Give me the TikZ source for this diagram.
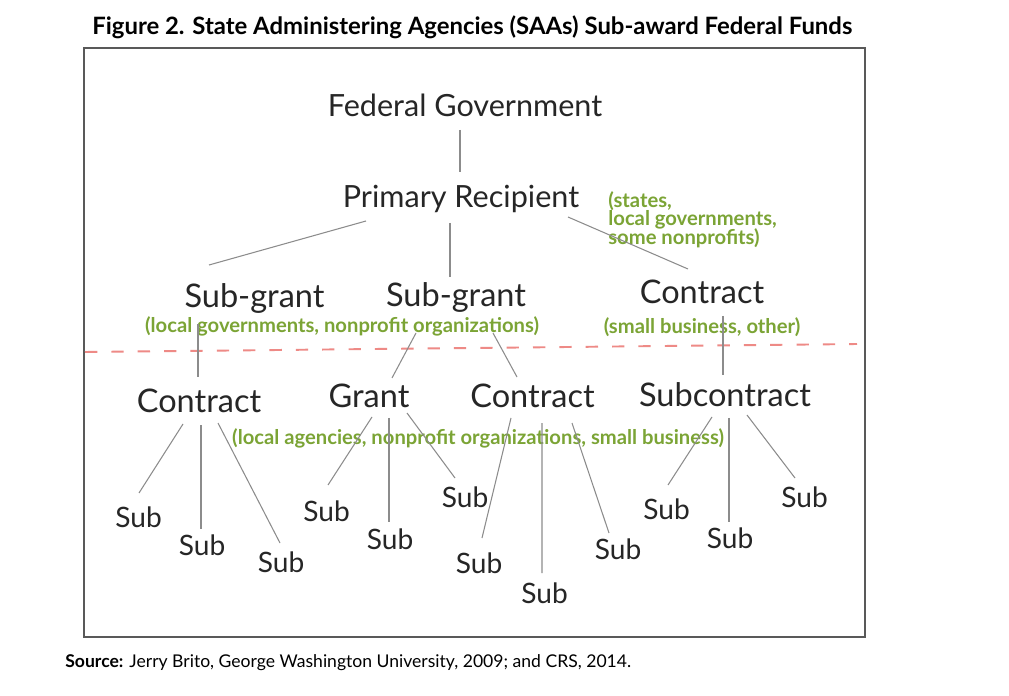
\documentclass[tikz,border=0pt]{standalone}
\usepackage{fontspec}
\setmainfont{Lato}
\definecolor{notegreen}{HTML}{7BA435}
\definecolor{cutred}{HTML}{EE8A86}
\definecolor{linkgray}{HTML}{8C8C8C}
\begin{document}
\begin{tikzpicture}[x=0.02cm, y=-0.02cm,
    lbl/.style={anchor=base, inner sep=0pt, font=\fontsize{17.4}{20}\selectfont, text=black!85},
    lblB/.style={lbl, font=\fontsize{18.5}{21}\selectfont},
    sub/.style={anchor=base, inner sep=0pt, font=\fontsize{16}{19}\selectfont, text=black!85},
    note/.style={anchor=base, inner sep=0pt, font=\fontsize{11.5}{10}\selectfont\bfseries, text=notegreen},
    link/.style={draw=linkgray, line width=0.6pt},
    frame/.style={draw=black!65, line width=0.8pt},
    cut/.style={draw=cutred, line width=1.1pt, dash pattern=on 7pt off 8pt}]
    \useasboundingbox (0,0) rectangle (1009,696);
    \fill[white] (0,0) rectangle (1009,696);

    \node[anchor=base west, inner sep=0pt, font=\fontsize{13.6}{15}\selectfont\bfseries] (title) at (92,35)
        {Figure 2. State Administering Agencies (SAAs) Sub-award Federal Funds};
    \node[anchor=base west, inner sep=0pt, font=\fontsize{10}{12}\selectfont] (source) at (65,667)
        {\textbf{Source:} Jerry Brito, George Washington University, 2009; and CRS, 2014.};
    \draw[frame] (84,48) rectangle (865,637);

    \node[lbl] (fed) at (465,117) {Federal Government};
    \node[lbl] (prim) at (461,208) {Primary Recipient};
    \node[note, anchor=north west, align=left] (primnote) at (608,191)
        {(states,\\[-1pt]local governments,\\[-1pt]some nonprofits)};

    \node[lblB] (sgA) at (254.5,308) {Sub-grant};
    \node[lblB] (sgB) at (456,307) {Sub-grant};
    \node[lblB] (conA) at (702,304) {Contract};
    \node[note] (sgnote) at (342,333) {(local governments, nonprofit organizations)};
    \node[note] (connote) at (702,334) {(small business, other)};

    \draw[cut] (85,352) -- (857,344);

    \node[lblB] (conB) at (199,413) {Contract};
    \node[lblB] (grant) at (369,408) {Grant};
    \node[lblB] (conC) at (532.5,407) {Contract};
    \node[lblB] (subc) at (725,406) {Subcontract};
    \node[note] (lownote) at (478,444) {(local agencies, nonprofit organizations, small business)};

    \node[sub] (s1) at (138.5,527) {Sub};
    \node[sub] (s2) at (202,555) {Sub};
    \node[sub] (s3) at (281,572) {Sub};
    \node[sub] (s4) at (326.5,521) {Sub};
    \node[sub] (s5) at (390,549) {Sub};
    \node[sub] (s6) at (465,507) {Sub};
    \node[sub] (s7) at (479,573) {Sub};
    \node[sub] (s8) at (544.5,603) {Sub};
    \node[sub] (s9) at (618,560) {Sub};
    \node[sub] (s10) at (666.5,520) {Sub};
    \node[sub] (s11) at (730,548) {Sub};
    \node[sub] (s12) at (804.5,507) {Sub};

    \draw[link] ([shift={(-5,13)}]fed.base) -- ([shift={(-1,-36)}]prim.base);
    \draw[link] ([shift={(-95,13)}]prim.base) -- ([shift={(-45.5,-43)}]sgA.base);
    \draw[link] ([shift={(-11,15)}]prim.base) -- ([shift={(-6,-30)}]sgB.base);
    \draw[link] ([shift={(107,9)}]prim.base) -- ([shift={(-14,-35)}]conA.base);

    \draw[link] ([shift={(-56.5,16)}]sgA.base) -- ([shift={(-1,-36)}]conB.base);
    \draw[link] ([shift={(-40,26)}]sgB.base) -- ([shift={(23,-30)}]grant.base);
    \draw[link] ([shift={(37,26)}]sgB.base) -- ([shift={(-15.5,-30)}]conC.base);
    \draw[link] ([shift={(21,12)}]conA.base) -- ([shift={(-2,-31)}]subc.base);

    \draw[link] ([shift={(-16,11)}]conB.base) -- ([shift={(0.5,-34)}]s1.base);
    \draw[link] ([shift={(2,12)}]conB.base) -- ([shift={(-1,-26)}]s2.base);
    \draw[link] ([shift={(19,10)}]conB.base) -- ([shift={(-1,-29)}]s3.base);
    \draw[link] ([shift={(3,9)}]grant.base) -- ([shift={(1.5,-36)}]s4.base);
    \draw[link] ([shift={(20,10)}]grant.base) -- ([shift={(-1,-27)}]s5.base);
    \draw[link] ([shift={(38,5)}]grant.base) -- ([shift={(-10,-29)}]s6.base);
    \draw[link] ([shift={(-21.5,11)}]conC.base) -- ([shift={(3,-35)}]s7.base);
    \draw[link] ([shift={(9.5,16)}]conC.base) -- ([shift={(-2.5,-30)}]s8.base);
    \draw[link] ([shift={(39.5,16)}]conC.base) -- ([shift={(-9,-27)}]s9.base);
    \draw[link] ([shift={(-13,11)}]subc.base) -- ([shift={(1.5,-35)}]s10.base);
    \draw[link] ([shift={(4,12)}]subc.base) -- ([shift={(-1,-26)}]s11.base);
    \draw[link] ([shift={(22,9)}]subc.base) -- ([shift={(-9.5,-29)}]s12.base);
\end{tikzpicture}
\end{document}
